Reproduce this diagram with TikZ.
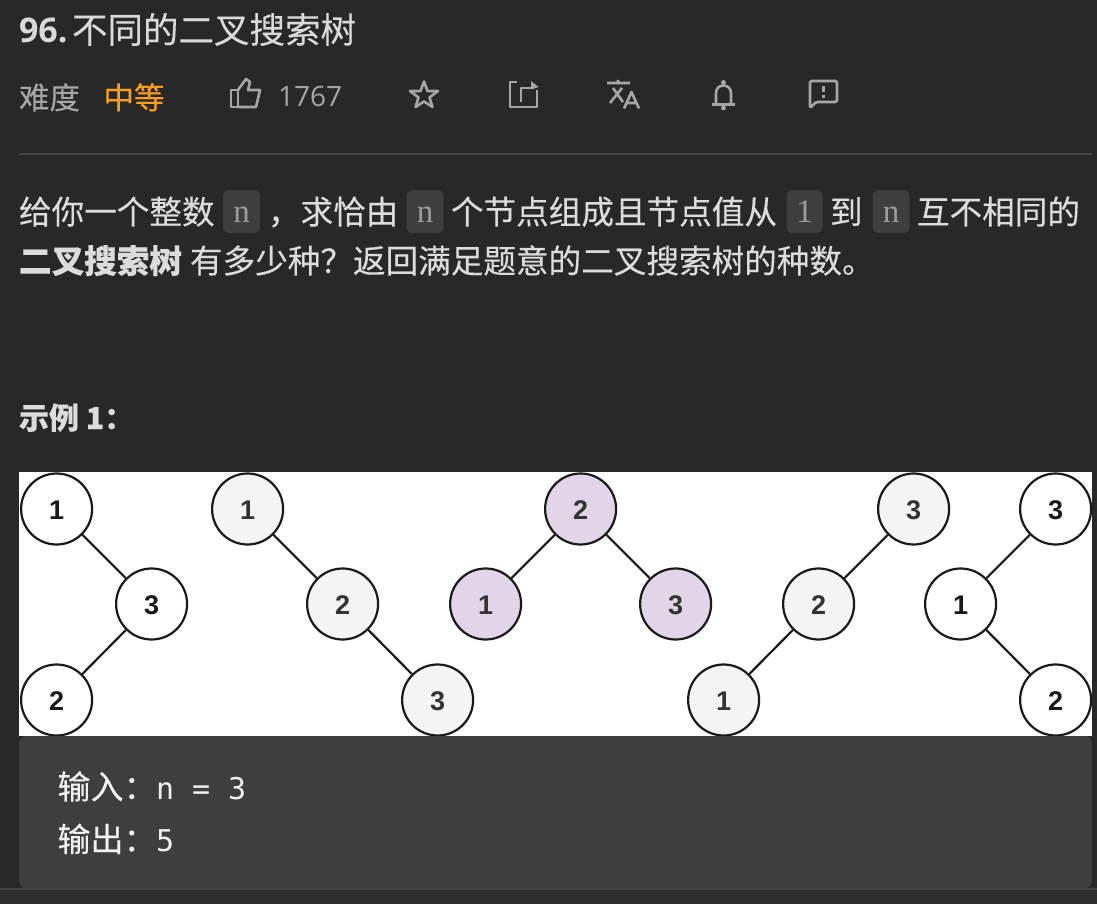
\documentclass[tikz,border=0pt]{standalone}
\usepackage{fontspec}
\usepackage{xcolor}
\setmainfont{Noto Sans CJK SC}[FakeBold=0.2]
\newfontfamily\digitfont{Liberation Sans}
\newfontfamily\monofont{DejaVu Sans Mono}
\newfontfamily\uifont{Open Sans}
\newfontfamily\codefont{Liberation Serif}
\usetikzlibrary{arrows.meta,positioning}
\definecolor{pagec}{HTML}{282828}
\definecolor{boxc}{HTML}{3E3E3E}
\definecolor{barc}{HTML}{2E2E2E}
\definecolor{rulec}{HTML}{444444}
\definecolor{titlec}{HTML}{DADADA}
\definecolor{bodyc}{HTML}{DCDCDC}
\definecolor{softc}{HTML}{A6A6A6}
\definecolor{codec}{HTML}{9C9C9C}
\definecolor{orangec}{HTML}{FFA116}
\definecolor{outc}{HTML}{F0F0F0}
\definecolor{grayq}{HTML}{F4F4F4}
\definecolor{purpleq}{HTML}{E1D5E7}
\definecolor{inkc}{HTML}{333333}
\definecolor{darkc}{HTML}{1A1A1A}
\newcommand{\fpx}[1]{\fontsize{#1}{#1}\selectfont}
\tikzset{
  Wq/.style={circle, draw=darkc, fill=white, line width=2.2pt, inner sep=0pt, minimum size=71pt,
    text height=21pt, font=\digitfont\bfseries\fpx{27}, text=darkc},
  Gq/.style={Wq, fill=grayq, text=inkc},
  Pq/.style={Wq, fill=purpleq, text=inkc},
  link/.style={draw=darkc, line width=2.2pt},
  txt/.style={anchor=base west, inner sep=0pt, outer sep=0pt},
  bodytxt/.style={txt, text=bodyc, font=\fpx{32.6}},
  outtxt/.style={txt, text=outc, font=\fpx{33}},
  outnum/.style={txt, text=outc, font=\monofont\fpx{30}},
  codebox/.style={rounded corners=6pt, fill=boxc, text=codec, minimum height=43pt, inner sep=0pt,
    text height=22pt, text depth=0pt, font=\codefont\fpx{33}},
  ico/.style={draw=softc, line width=2.6pt, line join=round},
}
\begin{document}
\begin{tikzpicture}[x=1pt,y=-1pt]
  \useasboundingbox (0,0) rectangle (1097,904);
  \fill[pagec] (0,0) rectangle (1097,904);
  \node[txt, text=titlec, font=\uifont\bfseries\fpx{34}] (num) at (19,43) {96.};
  \node[txt, text=titlec, font=\fpx{35.5}] (title) at (72,43) {不同的二叉搜索树};
  \node[txt, text=softc, font=\fpx{30.5}] (diff) at (19,109) {难度};
  \node[txt, text=orangec, font=\fpx{30.5}] (level) at (103.5,109) {中等};
  \node[txt, text=softc, font=\uifont\fpx{28}] (likes) at (278,107) {1767};
  \draw[ico] (231,90) rectangle (238,107);
  \draw[ico] (238,90) -- (246,79) -- (250,82) -- (248,90) -- (260,90) -- (256,107) -- (238,107);
  \draw[ico] (424,81.5) -- (427.5,91) -- (438,91) -- (429.5,97.5) -- (432.5,107) -- (424,101.5)
    -- (415.5,107) -- (418.5,97.5) -- (410,91) -- (420.5,91) -- cycle;
  \draw[ico] (517,82) -- (510,82) -- (510,107) -- (537,107) -- (537,90);
  \draw[ico] (521,102) -- (521,88) -- (533,88);
  \fill[softc] (531,81) -- (538.5,87) -- (531,89.5) -- cycle;
  \draw[ico] (607,83) -- (630,83) (618,80) -- (618,83) (613,88) -- (623,102) (622,88) -- (610,103);
  \draw[ico] (624,108.5) -- (631.5,92) -- (639,108.5) (627,103) -- (636,103);
  \draw[ico] (716,104) -- (716,93) .. controls (716,83) and (731,83) .. (731,93) -- (731,104);
  \draw[ico] (712,104.5) -- (735,104.5);
  \fill[softc] (723.5,82.5) circle (2.5pt) (723.5,108) circle (2.4pt);
  \draw[ico, rounded corners=1.5pt] (810,81) -- (837,81) -- (837,102) -- (816,102) -- (810,108) -- cycle;
  \draw[ico] (823.5,86) -- (823.5,92.5) (823.5,95.5) -- (823.5,98);
  \fill[rulec] (19,153) rectangle (1092,155);
  \node[bodytxt] (lineA) at (19,224) {给你一个整数};
  \node[codebox, minimum width=37pt] (codeA) at (241.5,211.5) {n};
  \node[bodytxt] (lineB) at (268,224) {，求恰由};
  \node[codebox, minimum width=37pt] (codeB) at (425,211.5) {n};
  \node[bodytxt] (lineC) at (451,224) {个节点组成且节点值从};
  \node[codebox, minimum width=36pt] (codeC) at (804.5,211.5) {1};
  \node[bodytxt] (lineD) at (830,224) {到};
  \node[codebox, minimum width=37pt] (codeD) at (891,211.5) {n};
  \node[bodytxt] (lineE) at (917,224) {互不相同的};
  \node[bodytxt, font=\bfseries\fpx{32.6}] (lineF) at (19,273) {二叉搜索树};
  \node[bodytxt] (lineG) at (190,273) {有多少种？返回满足题意的二叉搜索树的种数。};
  \node[bodytxt, font=\bfseries\fpx{30}] (ex) at (19,429) {示例 1：};
  \fill[white] (19,472) rectangle (1092,736);
  \foreach \nm/\xx/\yy/\lab/\kind in {a1/56.6/509/1/Wq, a3/151.6/604/3/Wq, a2/56.6/700/2/Wq,
      b1/247.6/509/1/Gq, b2/342.6/604/2/Gq, b3/437.6/700/3/Gq,
      c2/580.6/509/2/Pq, c1/485.6/604/1/Pq, c3/675.6/604/3/Pq,
      d3/913.6/509/3/Gq, d2/818.6/604/2/Gq, d1/723.6/700/1/Gq,
      e3/1055.6/509/3/Wq, e1/960.6/604/1/Wq, e2/1055.6/700/2/Wq}
    \node[\kind] (\nm) at (\xx,\yy) {\lab};
  \foreach \ta/\tb in {a1/a3, a3/a2, b1/b2, b2/b3, c2/c1, c2/c3, d3/d2, d2/d1, e3/e1, e1/e2}
    \draw[link] (\ta) -- (\tb);
  \fill[barc] (0,888) rectangle (1097,904);
  \fill[rulec] (0,888) rectangle (1097,890);
  \fill[pagec] (19,736) rectangle (1092,888);
  \fill[boxc, rounded corners=7pt] (19,736) rectangle (1092,888);
  \node[outtxt] (inA) at (57.5,799) {输入：};
  \node[outnum] (inB) at (156,799) {n = 3};
  \node[outtxt] (outA) at (57.5,851.5) {输出：};
  \node[outnum] (outB) at (156,851) {5};
\end{tikzpicture}
\end{document}
